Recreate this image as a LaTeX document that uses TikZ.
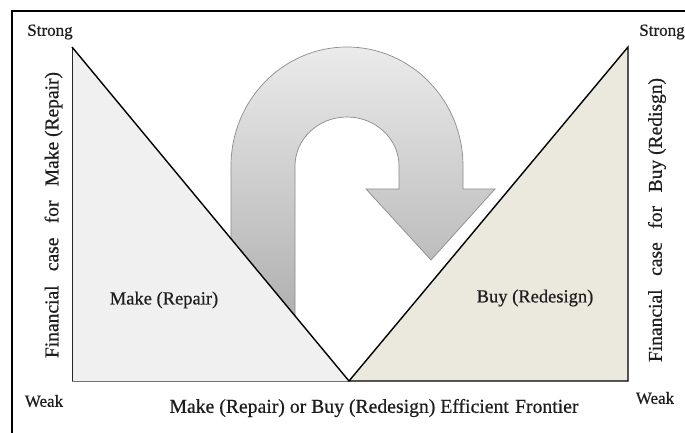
\documentclass[tikz,border=0pt]{standalone}
\usepackage{fontspec}
\setmainfont{Liberation Serif}
\newfontfamily\heavyserif[FakeBold=0.6]{Liberation Serif}
\definecolor{leftfill}{HTML}{F0F0F0}
\definecolor{rightfill}{HTML}{EBE8DD}
\definecolor{txt}{HTML}{1E1E1E}
\begin{document}
\begin{tikzpicture}[x=1pt,y=1pt,
  lbl/.style={inner sep=0pt, text=txt, font=\heavyserif\fontsize{18.5}{21}\selectfont},
  axlbl/.style={inner sep=0pt, text=txt, font=\heavyserif\fontsize{17}{20}\selectfont},
  vlbl/.style={inner sep=0pt, text=txt, rotate=90, font=\heavyserif\fontsize{19.5}{22}\selectfont},
  bottomlbl/.style={inner sep=0pt, text=txt, font=\heavyserif\fontsize{19.7}{23}\selectfont},
  uarrow/.style={top color=black!8, bottom color=black!32, draw=black!45, line width=0.7pt},
  edge/.style={line width=1.4pt, black}]
\useasboundingbox (0,0) rectangle (685,432);
\clip (0,0) rectangle (685,432);
\fill[white] (0,0) rectangle (685,432);
% frame
\draw[line width=2pt] (12,-5) -- (12,421) -- (690,421);
% U-turn arrow
\shadedraw[uarrow]
 (231,102) -- (231,266) arc[start angle=180,end angle=0,x radius=116,y radius=119]
 -- (463,243) -- (495,243) -- (431,172) -- (366,243) -- (399,243) -- (399,266)
 arc[start angle=0,end angle=180,x radius=52,y radius=49] -- (295,102) -- cycle;
% triangles
\coordinate (LA) at (72,385);
\coordinate (LB) at (72,51);
\coordinate (V) at (349,51);
\coordinate (RA) at (628,385);
\coordinate (RB) at (628,51);
\fill[leftfill] (LA) -- (LB) -- (V) -- cycle;
\draw[black!85, line width=1pt] (LA) -- (LB);
\draw[black!55, line width=1pt] (LB) -- (V);
\fill[rightfill] (V) -- (RA) -- (RB) -- cycle;
\draw[edge] (LA) -- (V) -- (RA) -- (RB) -- (V);
% labels
\node[axlbl] (strongL) at (50,400) {Strong};
\node[axlbl] (strongR) at (662,400) {Strong};
\node[axlbl] (weakL) at (44,31) {Weak};
\node[axlbl] (weakR) at (655,34) {Weak};
\node[lbl] (make) at (164,132) {Make (Repair)};
\node[lbl] (buy) at (535,134) {Buy (Redesign)};
\node[vlbl] (ylL) at (53.5,217) {\makebox[286pt][s]{Financial case for \mbox{Make (Repair)}}};
\node[vlbl] (ylR) at (657,212) {\makebox[284pt][s]{Financial case for \mbox{Buy (Redisgn)}}};
\node[bottomlbl] (front) at (374,24) {\makebox[409pt][s]{\mbox{Make (Repair) or Buy (Redesign) Efficient} Frontier}};
\end{tikzpicture}
\end{document}
